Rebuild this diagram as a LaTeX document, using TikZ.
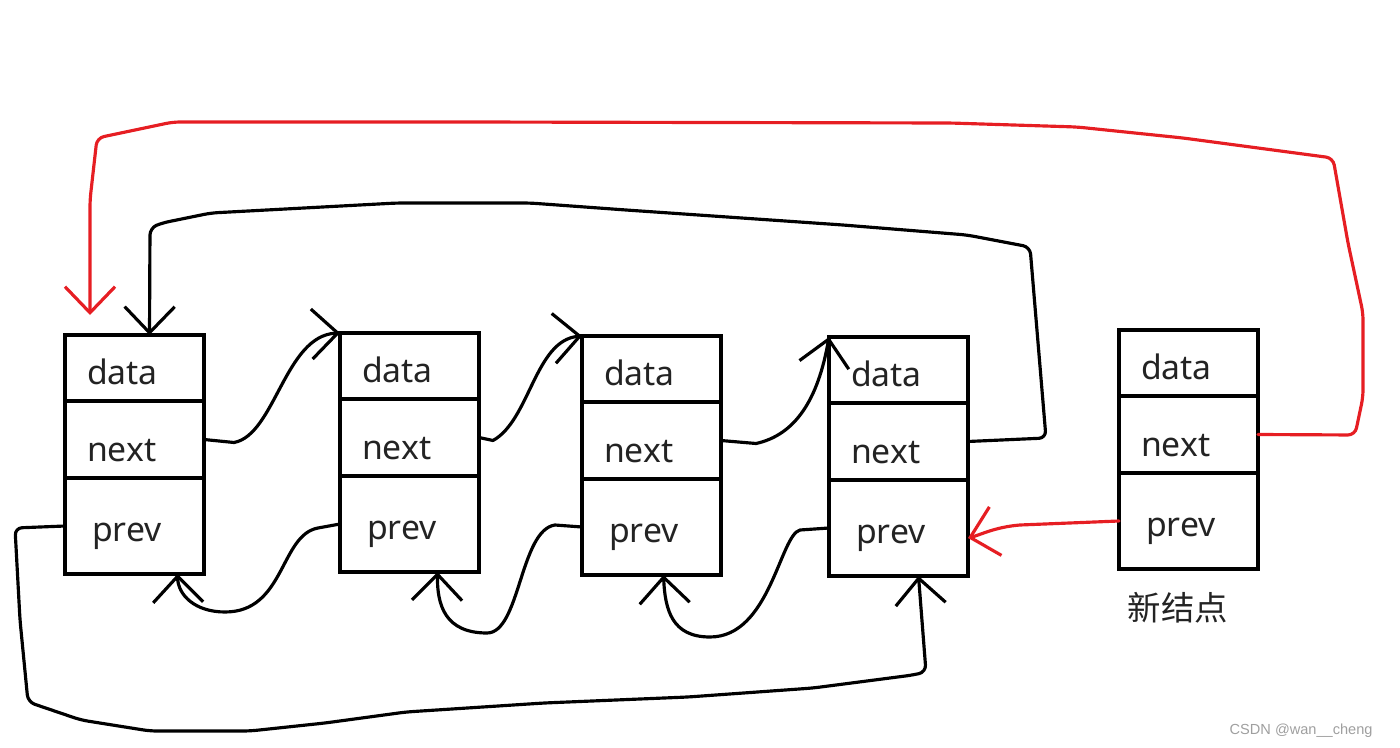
\documentclass[tikz,border=0pt]{standalone}
\usepackage{fontspec}
\setmainfont{Noto Sans}
\newfontfamily\cjkfont{Noto Sans CJK SC}
\newfontfamily\markfont{Liberation Sans}
\usetikzlibrary{arrows.meta,positioning}
\definecolor{penred}{RGB}{230,30,35}
\definecolor{inkgray}{RGB}{35,35,35}

\begin{document}
\begin{tikzpicture}[
  cell/.style={draw, line width=1.15pt, outer sep=0pt, minimum width=1.39cm,
    text width=0.95cm, align=left, text=inkgray, text depth=0pt,
    font=\fontsize{9.6}{11}\selectfont},
  link/.style={line width=0.9pt, line cap=round, line join=round,
    -{Straight Barb[length=2.6mm,width=5mm]}},
  redlink/.style={link, draw=penred},
  node distance=0pt]
\useasboundingbox (0,0) rectangle (14,-7.48);
% list nodes: data / next / prev
\foreach \i/\x/\y in {1/0.65/-3.35, 2/3.40/-3.33, 3/5.82/-3.36, 4/8.29/-3.37, 5/11.19/-3.30} {
  \node[cell, minimum height=0.66cm, text height=9.4pt, anchor=north west] (d\i) at (\x,\y) {data};
  \node[cell, minimum height=0.77cm, text height=12.6pt, below=of d\i] (n\i) {next};
  \node[cell, minimum height=0.96cm, text height=8.6pt, below=of n\i] (p\i) {\hspace*{0.5mm}prev};
}
\node[font=\cjkfont\fontsize{9.5}{11}\selectfont, text=inkgray] (cap) at (11.78,-6.08) {新结点};
\node[font=\markfont\fontsize{4.15}{5}\selectfont, text=gray!75, anchor=east] (mark) at (13.85,-7.31) {CSDN @wan\_\_cheng};

% next pointers
\draw[link] (n1.east) -- ++(0.3,-0.03) .. controls (2.75,-4.35) and (2.85,-3.35) .. (d2.north west);
\draw[link] (n2.east) -- ++(0.14,-0.03) .. controls (5.3,-4.2) and (5.35,-3.4) .. (d3.north west);
\draw[link] (n3.east) -- ++(0.35,-0.03) .. controls (7.95,-4.35) and (8.18,-4.0) .. (d4.north west);
\draw[link, rounded corners=2pt] (n4.east) -- (10.46,-4.38) -- (10.30,-2.47) -- (9.67,-2.35)
  -- (8.43,-2.25) -- (6.26,-2.10) -- (5.30,-2.03) -- (3.97,-2.03) -- (2.11,-2.13)
  -- (1.62,-2.23) -- (1.50,-2.28) -- ([xshift=1.5mm]d1.north);

% prev pointers
\draw[link] (p2.west) -- (3.18,-5.28) .. controls (2.8,-5.35) and (2.85,-6.12) .. (2.25,-6.12)
  .. controls (1.95,-6.12) and (1.78,-5.95) .. ([xshift=4.3mm]p1.south);
\draw[link] (p3.west) -- (5.55,-5.25) .. controls (5.2,-5.3) and (5.2,-6.33) .. (4.87,-6.33)
  .. controls (4.45,-6.33) and (4.37,-6.05) .. ([xshift=2.8mm]p2.south);
\draw[link] (p4.west) -- (8.0,-5.3) .. controls (7.8,-5.35) and (7.7,-6.37) .. (7.10,-6.37)
  .. controls (6.72,-6.37) and (6.65,-6.1) .. ([xshift=1.2mm]p3.south);
\draw[link, rounded corners=2pt] (p1.west) -- (0.15,-5.28) -- (0.20,-6.20) -- (0.28,-7.02)
  -- (0.81,-7.20) -- (1.50,-7.31) -- (2.50,-7.31) -- (3.25,-7.23) -- (4.06,-7.12)
  -- (5.44,-7.03) -- (6.88,-6.97) -- (8.13,-6.88) -- (9.13,-6.75) -- (9.26,-6.72)
  -- ([xshift=2mm]p4.south);

% new node links
\draw[redlink, rounded corners=2pt] (n5.east) -- (13.55,-4.35) -- (13.63,-3.97) -- (13.63,-3.13)
  -- (13.48,-2.43) -- (13.33,-1.58) -- (11.83,-1.38) -- (10.77,-1.27) -- (9.50,-1.23)
  -- (4.70,-1.22) -- (1.73,-1.22) -- (0.97,-1.38) -- (0.90,-2.0) -- ([shift={(0.25,0.2)}]d1.north west);
\draw[redlink] (p5.west) -- (10.20,-5.25) .. controls (9.95,-5.27) and (9.8,-5.35) .. ([yshift=-1mm]p4.east);
\end{tikzpicture}
\end{document}
